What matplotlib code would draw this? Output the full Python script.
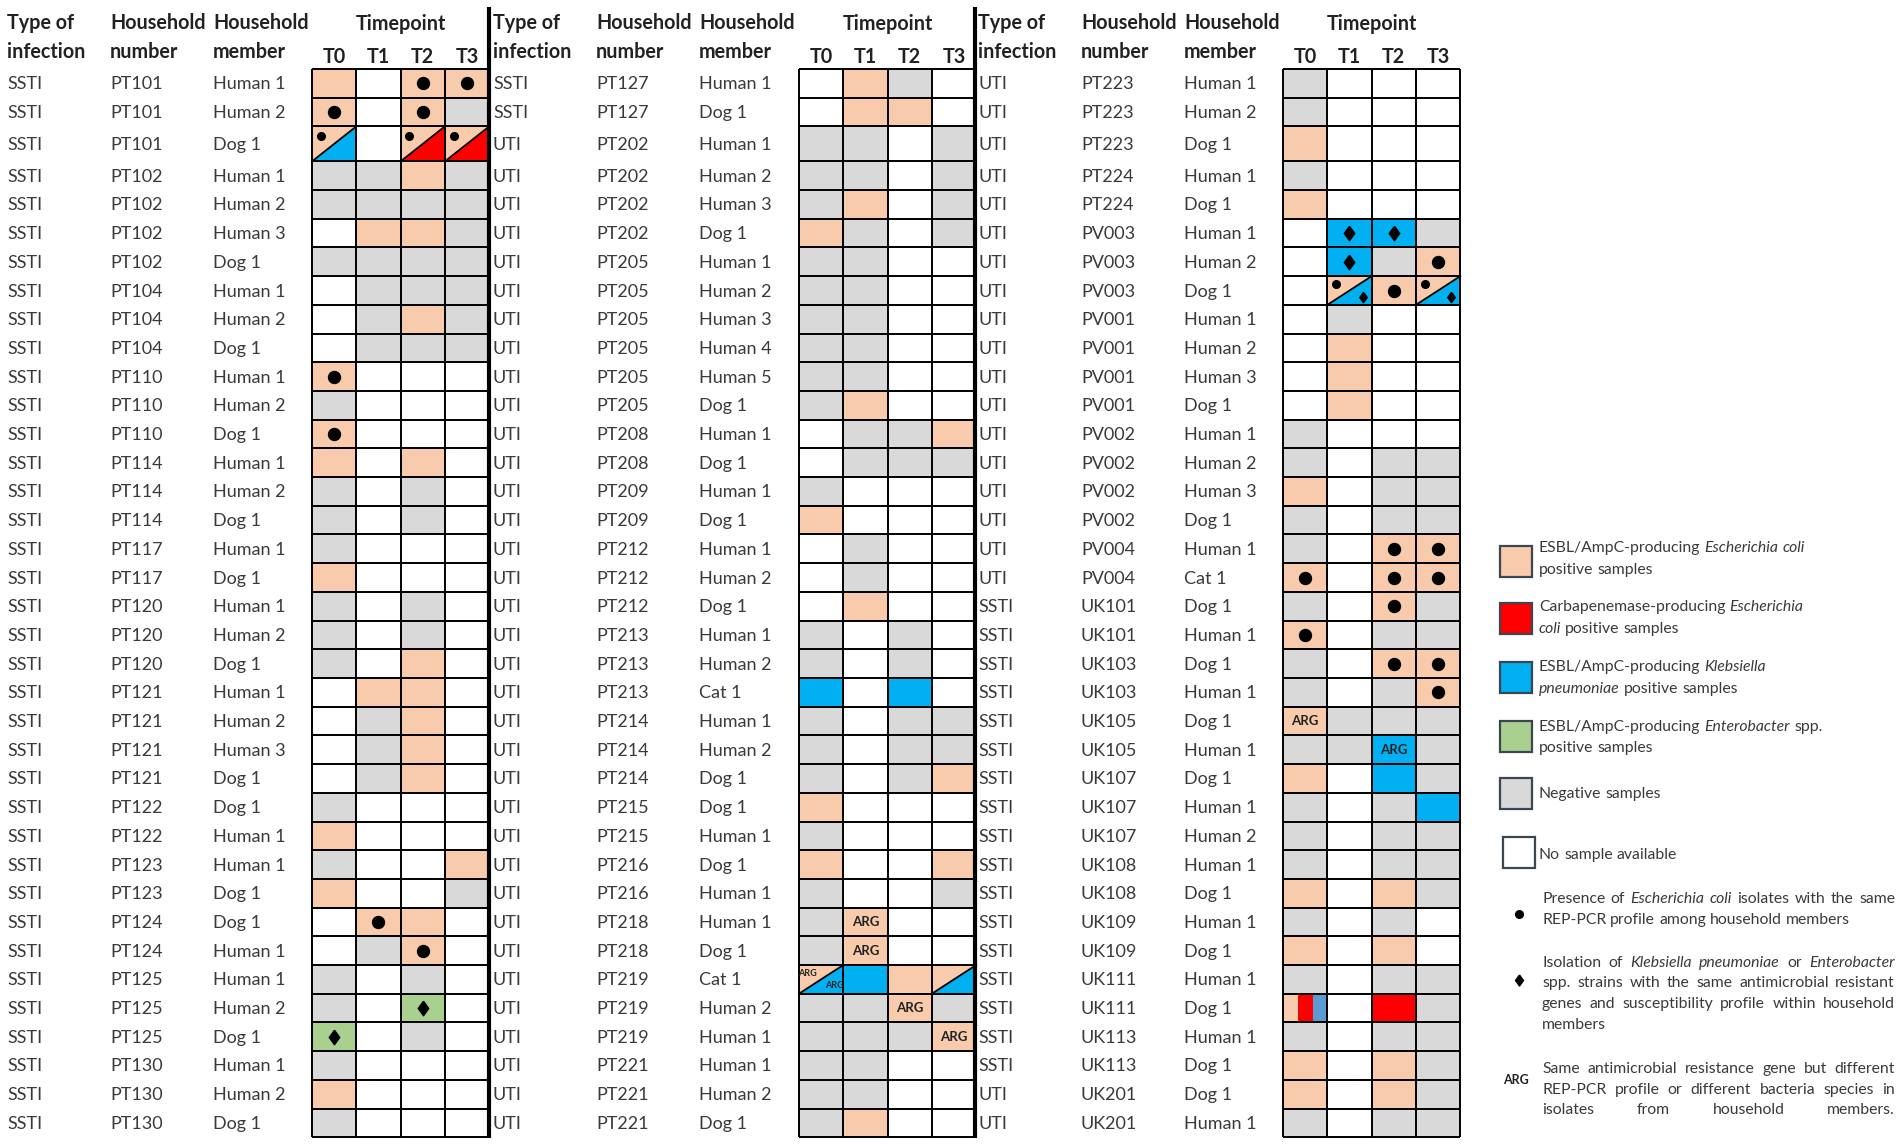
import matplotlib
matplotlib.use("Agg")
import matplotlib.pyplot as plt
from matplotlib.patches import Rectangle, Polygon

plt.rcParams['font.family'] = ['Lato', 'DejaVu Sans']

# ---- data ----------------------------------------------------------------
timepoints = ["T0", "T1", "T2", "T3"]

# panel 1
p1_infection = ["SSTI"] * 37
p1_household = ["PT101", "PT101", "PT101", "PT102", "PT102", "PT102", "PT102",
                "PT104", "PT104", "PT104", "PT110", "PT110", "PT110", "PT114",
                "PT114", "PT114", "PT117", "PT117", "PT120", "PT120", "PT120",
                "PT121", "PT121", "PT121", "PT121", "PT122", "PT122", "PT123",
                "PT123", "PT124", "PT124", "PT125", "PT125", "PT125", "PT130",
                "PT130", "PT130"]
p1_member = ["Human 1", "Human 2", "Dog 1", "Human 1", "Human 2", "Human 3", "Dog 1",
             "Human 1", "Human 2", "Dog 1", "Human 1", "Human 2", "Dog 1", "Human 1",
             "Human 2", "Dog 1", "Human 1", "Dog 1", "Human 1", "Human 2", "Dog 1",
             "Human 1", "Human 2", "Human 3", "Dog 1", "Dog 1", "Human 1", "Human 1",
             "Dog 1", "Dog 1", "Human 1", "Human 1", "Human 2", "Dog 1", "Human 1",
             "Human 2", "Dog 1"]
# O = E. coli ESBL, R = carbapenemase E. coli, B = K. pneumoniae, E = Enterobacter,
# G = negative, W = no sample, X/Y = split cell, X|Y|Z = striped cell
p1_status = ["O W O O", "O W O G", "O/B W O/R O/R", "G G O G", "G G G G", "W O O G",
             "G G G G", "W G G G", "W G O G", "W G G G", "O W W W", "G W W W",
             "O W W W", "O W O W", "G W G W", "G W G W", "G W W W", "O W W W",
             "G W G W", "G W G W", "G W O W", "W O O W", "W G O W", "W G O W",
             "W G O W", "G W W W", "O W W W", "G W W O", "O W W G", "W O O W",
             "W G O W", "G W G W", "G W E W", "E W G W", "G W W W", "O W W W",
             "G W W W"]
# o = same REP-PCR profile, d = same ARG/susceptibility, a = ARG
p1_marks = ["- - o o", "o - o -", "o/- - o/- o/-", "- - - -", "- - - -", "- - - -",
            "- - - -", "- - - -", "- - - -", "- - - -", "o - - -", "- - - -",
            "o - - -", "- - - -", "- - - -", "- - - -", "- - - -", "- - - -",
            "- - - -", "- - - -", "- - - -", "- - - -", "- - - -", "- - - -",
            "- - - -", "- - - -", "- - - -", "- - - -", "- - - -", "- o - -",
            "- - o -", "- - - -", "- - d -", "d - - -", "- - - -", "- - - -",
            "- - - -"]

# panel 2
p2_infection = ["SSTI", "SSTI"] + ["UTI"] * 35
p2_household = ["PT127", "PT127", "PT202", "PT202", "PT202", "PT202", "PT205",
                "PT205", "PT205", "PT205", "PT205", "PT205", "PT208", "PT208",
                "PT209", "PT209", "PT212", "PT212", "PT212", "PT213", "PT213",
                "PT213", "PT214", "PT214", "PT214", "PT215", "PT215", "PT216",
                "PT216", "PT218", "PT218", "PT219", "PT219", "PT219", "PT221",
                "PT221", "PT221"]
p2_member = ["Human 1", "Dog 1", "Human 1", "Human 2", "Human 3", "Dog 1", "Human 1",
             "Human 2", "Human 3", "Human 4", "Human 5", "Dog 1", "Human 1", "Dog 1",
             "Human 1", "Dog 1", "Human 1", "Human 2", "Dog 1", "Human 1", "Human 2",
             "Cat 1", "Human 1", "Human 2", "Dog 1", "Dog 1", "Human 1", "Dog 1",
             "Human 1", "Human 1", "Dog 1", "Cat 1", "Human 2", "Human 1", "Human 1",
             "Human 2", "Dog 1"]
p2_status = ["W O G W", "W O O W", "G G W G", "G G W G", "G O W G", "O G W G",
             "G G W W", "G G W W", "G G W W", "G G W W", "G G W W", "G O W W",
             "W G G O", "W G G G", "G W W W", "O W W W", "W G W W", "W G W W",
             "W O W W", "G W G W", "G W G W", "B W B W", "G W G G", "G W G G",
             "G W G O", "O W W W", "G W W W", "O W W O", "G W W G", "G O W W",
             "G O W W", "O/B B O O/B", "G G O G", "G G G O", "G G W W", "G G W W",
             "G O W W"]
p2_marks = ["- - - -"] * 29 + ["- a - -", "- a - -", "a/a - - -/-", "- - a -",
                               "- - - a", "- - - -", "- - - -", "- - - -"]

# panel 3
p3_infection = ["UTI"] * 18 + ["SSTI"] * 17 + ["UTI", "UTI"]
p3_household = ["PT223", "PT223", "PT223", "PT224", "PT224", "PV003", "PV003",
                "PV003", "PV001", "PV001", "PV001", "PV001", "PV002", "PV002",
                "PV002", "PV002", "PV004", "PV004", "UK101", "UK101", "UK103",
                "UK103", "UK105", "UK105", "UK107", "UK107", "UK107", "UK108",
                "UK108", "UK109", "UK109", "UK111", "UK111", "UK113", "UK113",
                "UK201", "UK201"]
p3_member = ["Human 1", "Human 2", "Dog 1", "Human 1", "Dog 1", "Human 1", "Human 2",
             "Dog 1", "Human 1", "Human 2", "Human 3", "Dog 1", "Human 1", "Human 2",
             "Human 3", "Dog 1", "Human 1", "Cat 1", "Dog 1", "Human 1", "Dog 1",
             "Human 1", "Dog 1", "Human 1", "Dog 1", "Human 1", "Human 2", "Human 1",
             "Dog 1", "Human 1", "Dog 1", "Human 1", "Dog 1", "Human 1", "Dog 1",
             "Dog 1", "Human 1"]
p3_status = ["G W W W", "G W W W", "O W W W", "G W W W", "O W W W", "W B B G",
             "W B G O", "W O/B O O/B", "W G W W", "W O W W", "W O W W", "W O W W",
             "G W W W", "G W G G", "O W G G", "G W G G", "G W O O", "O W O O",
             "G W O G", "O W G G", "G W O O", "G W G O", "O G G G", "G G B G",
             "O W B G", "G W G B", "G W G G", "G W G G", "O W O G", "G W G W",
             "O W O W", "G W G G", "O|R|L W R G", "G W G G", "O W O G", "O W O G",
             "G W G G"]
p3_marks = ["- - - -"] * 5 + ["- d d -", "- d - o", "- o/d o o/d"] + ["- - - -"] * 8 + \
           ["- - o o", "o - o o", "- - o -", "o - - -", "- - o o", "- - - o",
            "a - - -", "- - a -"] + ["- - - -"] * 13

legend_boxes = ["O", "R", "B", "E", "G", "W"]
legend_texts = [["ESBL/AmpC-producing *Escherichia* *coli*", "positive samples"],
                ["Carbapenemase-producing *Escherichia*", "*coli* positive samples"],
                ["ESBL/AmpC-producing *Klebsiella*", "*pneumoniae* positive samples"],
                ["ESBL/AmpC-producing *Enterobacter* spp.", "positive samples"],
                ["Negative samples"],
                ["No sample available"]]
note_dot = ["Presence of *Escherichia* *coli* isolates with the same",
            "REP-PCR profile among household members"]
note_diamond = ["Isolation of *Klebsiella* *pneumoniae* or *Enterobacter*",
                "spp. strains with the same antimicrobial resistant",
                "genes and susceptibility profile within household",
                "members"]
note_arg = ["Same antimicrobial resistance gene but different",
            "REP-PCR profile or different bacteria species in",
            "isolates from household members."]

# ---- style ---------------------------------------------------------------
colors = {"O": "#F8CBAD", "R": "#FF0000", "B": "#00B0F0", "E": "#A9D08E",
          "G": "#D9D9D9", "W": "#FFFFFF", "L": "#5B9BD5"}
body_col = "#3a3a3a"
head_col = "#222222"
fs = 13
hfs = 14.2

W, H = 1902, 1144
fig = plt.figure(figsize=(W / 100, H / 100), dpi=100)
ax = fig.add_axes([0, 0, 1, 1])
ax.set_xlim(0, W)
ax.set_ylim(H, 0)
ax.axis("off")

top, rh, tall_h, tall_row = 69, 28.7, 35, 2
row_edges = [top]
for i in range(37):
    row_edges.append(row_edges[-1] + (tall_h if i == tall_row else rh))
cw = 44.3
diamond = [(0, 1), (0.72, 0), (0, -1), (-0.72, 0), (0, 1)]


def put_mark(m, x, y, small=False):
    if m == "o":
        ax.plot(x, y, "o", ms=5.5 if small else 8.6, color="black", zorder=5)
    elif m == "d":
        ax.plot(x, y, marker=diamond, ms=7.5 if small else 10.5, color="black",
                ls="none", zorder=5)
    elif m == "a":
        ax.text(x, y, "ARG", fontsize=6.5 if small else 9.5, fontweight="bold",
                color=head_col, ha="center", va="center", zorder=5)


def draw_panel(x0, gx, infection, household, member, status, marks):
    heads = [(0, "Type of", "infection"), (103, "Household", "number"),
             (206, "Household", "member")]
    for dx, l1, l2 in heads:
        ax.text(x0 + dx, 23, l1, fontsize=hfs, fontweight="bold", color=head_col, va="center")
        ax.text(x0 + dx, 52, l2, fontsize=hfs, fontweight="bold", color=head_col, va="center")
    ax.text(gx + 2 * cw, 24, "Timepoint", fontsize=hfs, fontweight="bold", color=head_col,
            ha="center", va="center")
    for j, tp in enumerate(timepoints):
        ax.text(gx + (j + 0.5) * cw, 57, tp, fontsize=hfs, fontweight="bold",
                color=head_col, ha="center", va="center")

    for i in range(len(status)):
        y0, y1 = row_edges[i], row_edges[i + 1]
        ym = (y0 + y1) / 2
        ax.text(x0, ym + 1, infection[i], fontsize=fs, color=body_col, va="center")
        ax.text(x0 + 103, ym + 1, household[i], fontsize=fs, color=body_col, va="center")
        ax.text(x0 + 206, ym + 1, member[i], fontsize=fs, color=body_col, va="center")
        for j, (st, mk) in enumerate(zip(status[i].split(), marks[i].split())):
            cx0, cx1 = gx + j * cw, gx + (j + 1) * cw
            if "/" in st:
                a, b = st.split("/")
                ax.add_patch(Rectangle((cx0, y0), cw, y1 - y0, fc=colors[a], ec="none"))
                ax.add_patch(Polygon([(cx0, y1), (cx1, y0), (cx1, y1)], fc=colors[b], ec="none"))
                ax.plot([cx0, cx1], [y1, y0], color="black", lw=1.3, zorder=4)
                m1, m2 = mk.split("/")
                put_mark(m1, cx0 + 0.2 * cw, y0 + 0.28 * (y1 - y0), small=True)
                put_mark(m2, cx0 + 0.8 * cw, y0 + 0.72 * (y1 - y0), small=True)
            elif "|" in st:
                parts = st.split("|")
                for k, p in enumerate(parts):
                    ax.add_patch(Rectangle((cx0 + k * cw / len(parts), y0), cw / len(parts),
                                           y1 - y0, fc=colors[p], ec="none"))
            else:
                ax.add_patch(Rectangle((cx0, y0), cw, y1 - y0, fc=colors[st], ec="none"))
                put_mark(mk, (cx0 + cx1) / 2, ym)

    ax.hlines(row_edges, gx, gx + 4 * cw, color="black", lw=1.4, zorder=3)
    ax.vlines([gx + j * cw for j in range(5)], row_edges[0], row_edges[-1],
              color="black", lw=1.4, zorder=3)


draw_panel(7, 312, p1_infection, p1_household, p1_member, p1_status, p1_marks)
draw_panel(493, 799, p2_infection, p2_household, p2_member, p2_status, p2_marks)
draw_panel(978, 1283, p3_infection, p3_household, p3_member, p3_status, p3_marks)
ax.vlines([489, 975], 7, row_edges[-1] + 1, color="black", lw=3, zorder=6)

# ---- legend --------------------------------------------------------------
renderer = fig.canvas.get_renderer()
lfs = 11.3


def text_width(s, italic=False):
    t = ax.text(0, 0, s, fontsize=lfs, fontstyle="italic" if italic else "normal")
    w = t.get_window_extent(renderer).width
    t.remove()
    return w


space_w = text_width("a a") - text_width("aa")


def draw_line(x, y, line, right=None):
    words = [(w.strip("*"), w.startswith("*")) for w in line.split()]
    widths = [text_width(w, it) for w, it in words]
    gap = space_w
    if right is not None and len(words) > 1:
        gap = max((right - x - sum(widths)) / (len(words) - 1), space_w * 0.6)
    for (w, it), wd in zip(words, widths):
        ax.text(x, y, w, fontsize=lfs, fontstyle="italic" if it else "normal",
                color=body_col, va="center")
        x += wd + gap


box_y = [546, 603, 662, 721, 778, 837]
text_y = [[548, 570], [607, 629], [667, 689], [727, 748], [794], [855]]
for code, y, lines, ty in zip(legend_boxes, box_y, legend_texts, text_y):
    bx = 1503 if code == "W" else 1500
    ax.add_patch(Rectangle((bx, y), 32, 31, fc=colors[code], ec="#3c4652", lw=1.6))
    for line, yy in zip(lines, ty):
        draw_line(1539, yy, line)

right_edge = 1895
ax.plot(1519, 914, "o", ms=5.5, color="black")
for k, (line, yy) in enumerate(zip(note_dot, [899, 920])):
    draw_line(1542, yy, line, right_edge if k == 0 else None)
ax.plot(1519, 980, marker=diamond, ms=8, color="black", ls="none")
for k, (line, yy) in enumerate(zip(note_diamond, [963, 983, 1004, 1025])):
    draw_line(1542, yy, line, right_edge if k < 3 else None)
ax.text(1516, 1080, "ARG", fontsize=9, fontweight="bold", color=head_col,
        ha="center", va="center")
for line, yy in zip(note_arg, [1069, 1090, 1110]):
    draw_line(1542, yy, line, right_edge)

fig.savefig("out.png", dpi=100)
